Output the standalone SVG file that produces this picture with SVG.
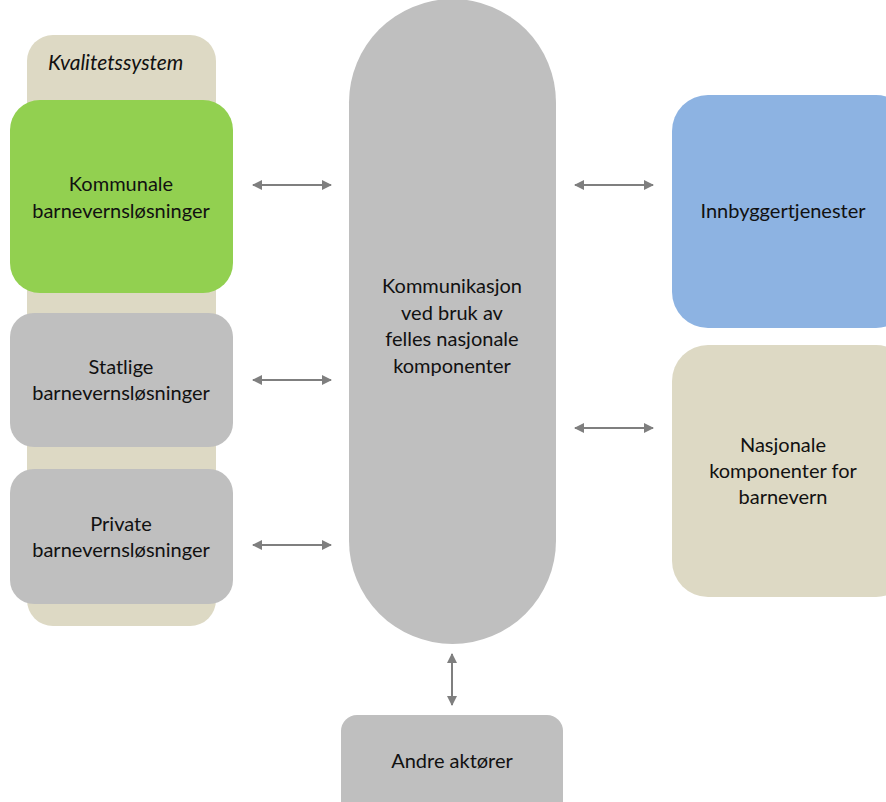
<svg xmlns="http://www.w3.org/2000/svg" width="886" height="802" viewBox="0 0 886 802">
  <defs>
    <marker id="ah" viewBox="0 0 10 10" refX="9" refY="5" markerWidth="5" markerHeight="5" orient="auto-start-reverse" markerUnits="strokeWidth">
      <path d="M0,0 L10,5 L0,10 Z" fill="#7f7f7f"/>
    </marker>
  </defs>
  <style>
    text { font-family: Lato, "Open Sans", "Liberation Sans", sans-serif; font-size: 20px; fill: #111111; text-anchor: middle; }
    .it { font-style: italic; font-size: 21px; text-anchor: start; }
    .gray { fill: #bfbfbf; }
    .beige { fill: #ddd9c4; }
    .link { stroke: #7f7f7f; stroke-width: 2; fill: none; marker-start: url(#ah); marker-end: url(#ah); }
  </style>
  <rect width="886" height="802" fill="#ffffff"/>

  <!-- quality system container -->
  <g id="kvalitetssystem">
    <rect class="beige" x="27" y="35" width="189" height="591" rx="26"/>
    <text class="it" x="48" y="70">Kvalitetssystem</text>
  </g>

  <g id="kommunale">
    <rect x="10" y="100" width="223" height="193" rx="30" fill="#92d050"/>
    <text x="121" y="191">Kommunale</text>
    <text x="121" y="218">barnevernsløsninger</text>
  </g>

  <g id="statlige">
    <rect class="gray" x="10" y="313" width="223" height="134" rx="24"/>
    <text x="121" y="374">Statlige</text>
    <text x="121" y="400">barnevernsløsninger</text>
  </g>

  <g id="private">
    <rect class="gray" x="10" y="469" width="223" height="135" rx="24"/>
    <text x="121" y="531">Private</text>
    <text x="121" y="557">barnevernsløsninger</text>
  </g>

  <g id="kommunikasjon">
    <rect class="gray" x="349" y="-1" width="207" height="645" rx="103.5"/>
    <text x="452" y="293">Kommunikasjon</text>
    <text x="452" y="320">ved bruk av</text>
    <text x="452" y="346">felles nasjonale</text>
    <text x="452" y="373">komponenter</text>
  </g>

  <g id="innbyggertjenester">
    <rect x="672" y="95" width="240" height="233" rx="36" fill="#8db3e2"/>
    <text x="783" y="218">Innbyggertjenester</text>
  </g>

  <g id="nasjonale">
    <rect class="beige" x="672" y="345" width="240" height="252" rx="36"/>
    <text x="783" y="452">Nasjonale</text>
    <text x="783" y="478">komponenter for</text>
    <text x="783" y="504">barnevern</text>
  </g>

  <g id="andre">
    <rect class="gray" x="341" y="715" width="222" height="110" rx="16"/>
    <text x="452" y="768">Andre aktører</text>
  </g>

  <!-- two-way connectors -->
  <g id="connectors">
    <line class="link" x1="253" y1="185" x2="331" y2="185"/>
    <line class="link" x1="253" y1="380" x2="331" y2="380"/>
    <line class="link" x1="253" y1="545" x2="331" y2="545"/>
    <line class="link" x1="575" y1="185" x2="653" y2="185"/>
    <line class="link" x1="575" y1="428" x2="653" y2="428"/>
    <line class="link" x1="452" y1="654" x2="452" y2="705"/>
  </g>
</svg>
